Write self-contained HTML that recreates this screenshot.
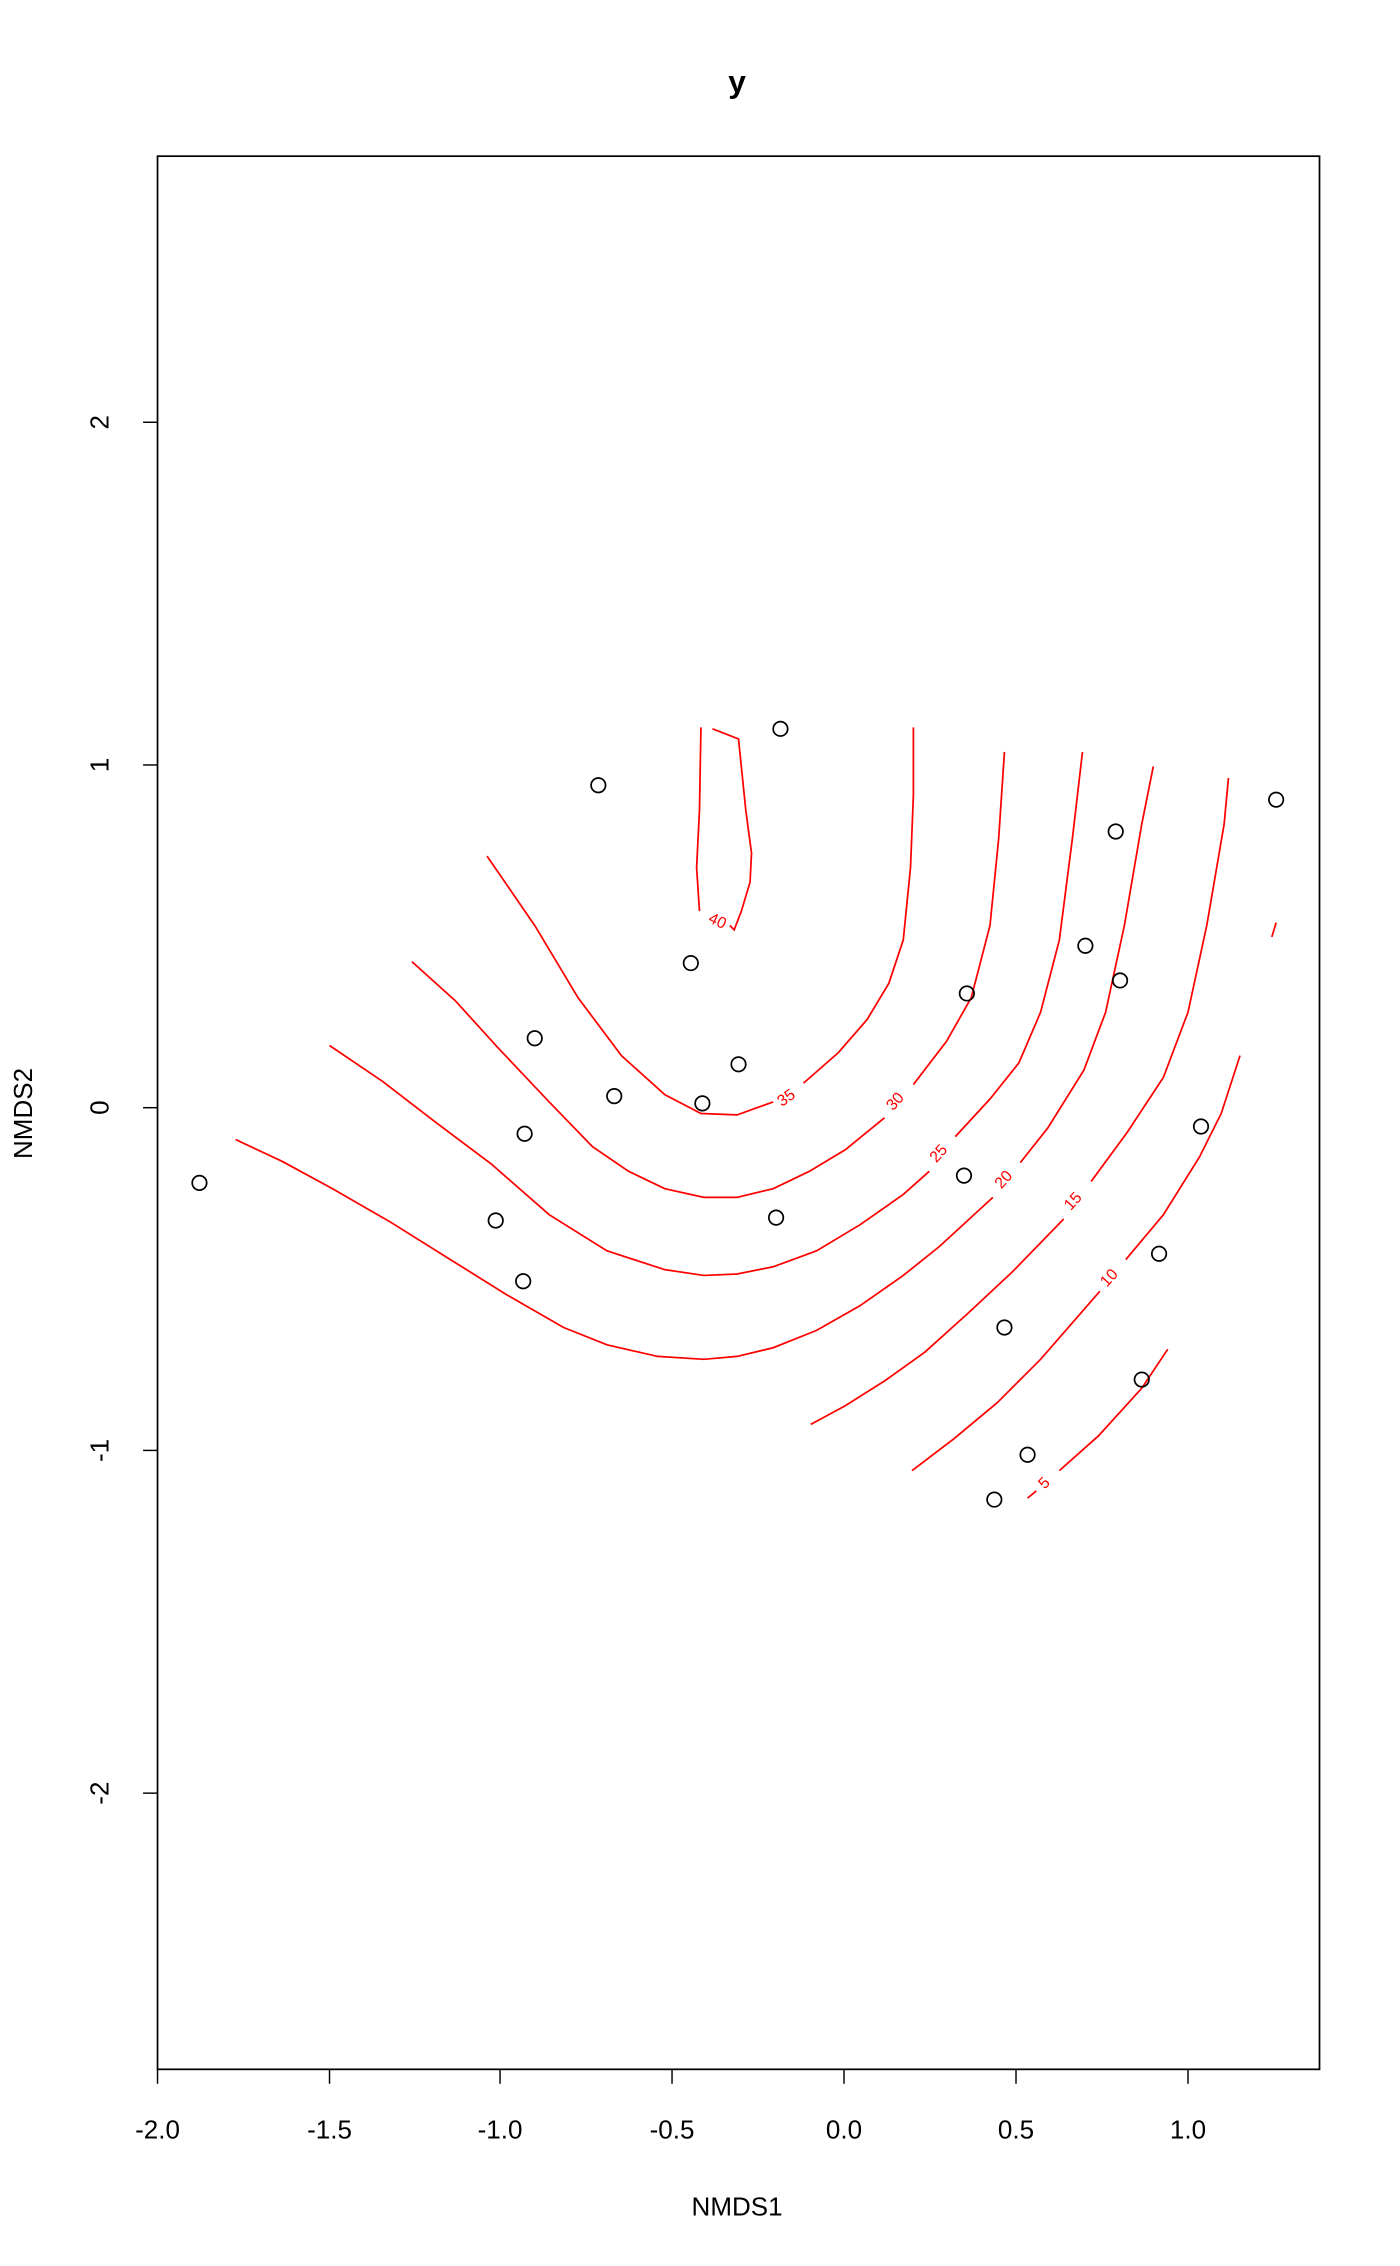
<!DOCTYPE html>
<html><head><style>html,body{margin:0;padding:0;background:#fff}svg{display:block}</style></head>
<body>
<svg width="1400" height="2266" viewBox="0 0 968.7 1567" preserveAspectRatio="none" xmlns="http://www.w3.org/2000/svg" font-family="Liberation Sans, sans-serif">
<rect x="0" y="0" width="968.7" height="1567" fill="#fff"/>
<text x="510" y="64" font-size="22" font-weight="bold" text-anchor="middle">y</text>
<rect x="109" y="108" width="804" height="1323" fill="none" stroke="#000" stroke-width="1.2"/>
<g stroke="#000" stroke-width="1">
<line x1="109" y1="1431" x2="109" y2="1441"/><line x1="228" y1="1431" x2="228" y2="1441"/><line x1="346" y1="1431" x2="346" y2="1441"/><line x1="465" y1="1431" x2="465" y2="1441"/><line x1="584" y1="1431" x2="584" y2="1441"/><line x1="703" y1="1431" x2="703" y2="1441"/><line x1="822" y1="1431" x2="822" y2="1441"/>
<line x1="99" y1="292" x2="109" y2="292"/><line x1="99" y1="529" x2="109" y2="529"/><line x1="99" y1="766" x2="109" y2="766"/><line x1="99" y1="1003" x2="109" y2="1003"/><line x1="99" y1="1240" x2="109" y2="1240"/>
</g>
<g font-size="18" text-anchor="middle">
<text x="109" y="1479">-2.0</text><text x="228" y="1479">-1.5</text><text x="346" y="1479">-1.0</text><text x="465" y="1479">-0.5</text><text x="584" y="1479">0.0</text><text x="703" y="1479">0.5</text><text x="822" y="1479">1.0</text>
<text transform="translate(75,292) rotate(-90)">2</text><text transform="translate(75,529) rotate(-90)">1</text><text transform="translate(75,766) rotate(-90)">0</text><text transform="translate(75,1003) rotate(-90)">-1</text><text transform="translate(75,1240) rotate(-90)">-2</text>
<text x="510" y="1532">NMDS1</text>
<text transform="translate(22,770) rotate(-90)">NMDS2</text>
</g>
<g fill="none" stroke="#f00" stroke-width="1.2">
<polyline points="485,503 484,560 482,600 484,630"/>
<polyline points="505,640 508,643 513,630 519,610 520,590 516,560 511,511 493,504"/>
<polyline points="337,592 370,640 400,690 430,730 460,757 485,770 510,771 535,762"/>
<polyline points="556,749 580,728 600,705 615,680 625,650 630,600 632,550 632,503"/>
<polyline points="285,665 315,692 345,725 380,762 410,793 435,810 460,822 487,828 510,828 535,822 560,810 585,795 612,773"/>
<polyline points="632,750 655,720 672,690 685,640 691,580 695,520"/>
<polyline points="228,723 265,748 300,775 340,805 380,840 420,865 460,878 487,882 510,881 535,876 565,865 595,847 625,826 643,810"/>
<polyline points="661,786 685,760 705,735 720,700 733,650 742,580 749,520"/>
<polyline points="163,788 195,803 230,822 270,845 310,870 350,895 390,918 420,930 455,938 487,940 510,938 535,932 565,920 595,903 625,882 650,862 687,828"/>
<polyline points="706,804 725,780 750,740 765,700 778,640 790,570 798,530"/>
<polyline points="561,985 585,972 612,955 640,935 670,908 700,880 736,843"/>
<polyline points="755,817 780,783 805,745 822,700 835,640 847,570 850,538"/>
<polyline points="631,1017 660,995 690,970 720,940 761,893"/>
<polyline points="779,871 805,840 830,800 845,770 858,730"/>
<polyline points="711,1036 717,1031"/>
<polyline points="733,1017 760,993 790,960 808,933"/>
<polyline points="880,648 883,638"/>
</g>
<g fill="#f00" font-size="11" text-anchor="middle">
<text transform="translate(495,640) rotate(25)">40</text>
<text transform="translate(546,762) rotate(-35)">35</text>
<text transform="translate(622,764) rotate(-48)">30</text>
<text transform="translate(652,800) rotate(-48)">25</text>
<text transform="translate(697,818) rotate(-48)">20</text>
<text transform="translate(745,833) rotate(-48)">15</text>
<text transform="translate(770,886) rotate(-48)">10</text>
<text transform="translate(725,1028) rotate(-45)">5</text>
</g>
<g fill="none" stroke="#000" stroke-width="1.2">
<circle cx="138" cy="818" r="5"/><circle cx="414" cy="543" r="5"/><circle cx="540" cy="504" r="5"/><circle cx="478" cy="666" r="5"/><circle cx="370" cy="718" r="5"/><circle cx="425" cy="758" r="5"/><circle cx="363" cy="784" r="5"/><circle cx="486" cy="763" r="5"/><circle cx="511" cy="736" r="5"/><circle cx="343" cy="844" r="5"/><circle cx="362" cy="886" r="5"/><circle cx="537" cy="842" r="5"/><circle cx="669" cy="687" r="5"/><circle cx="667" cy="813" r="5"/><circle cx="751" cy="654" r="5"/><circle cx="772" cy="575" r="5"/><circle cx="775" cy="678" r="5"/><circle cx="883" cy="553" r="5"/><circle cx="831" cy="779" r="5"/><circle cx="802" cy="867" r="5"/><circle cx="695" cy="918" r="5"/><circle cx="790" cy="954" r="5"/><circle cx="711" cy="1006" r="5"/><circle cx="688" cy="1037" r="5"/>
</g>
</svg>
</body></html>
